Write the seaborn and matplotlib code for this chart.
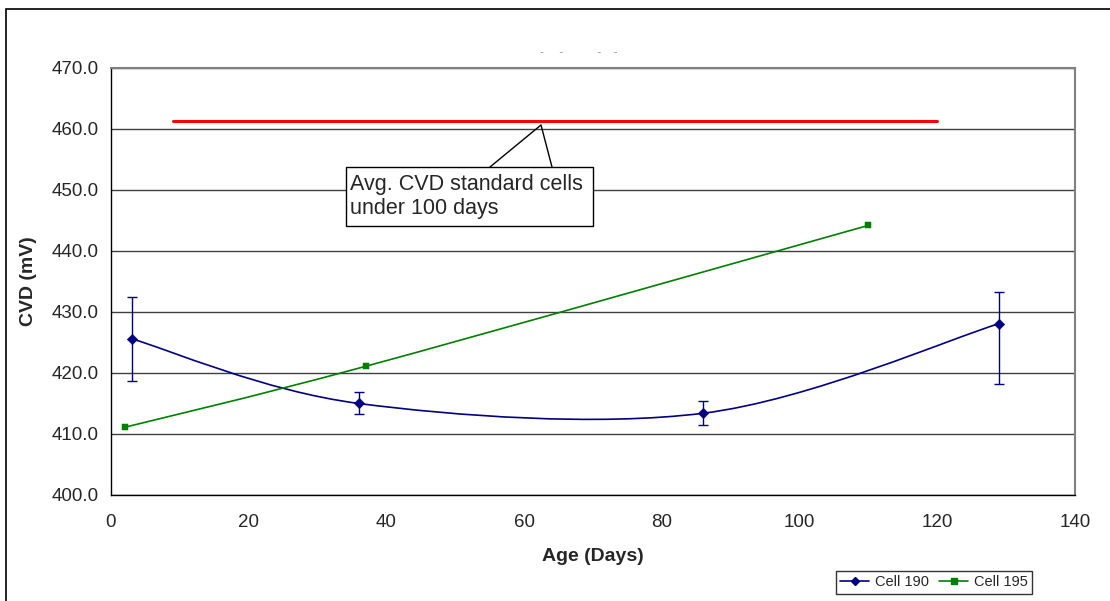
import numpy as np
import matplotlib
matplotlib.use("Agg")
import matplotlib.pyplot as plt
import seaborn as sns
import pandas as pd
from matplotlib.path import Path
from matplotlib.patches import PathPatch, Rectangle
from matplotlib.lines import Line2D

# ---- data ----
cell190_days = [3, 36, 86, 129]
cell190_cvd = [425.6, 415.0, 413.4, 428.1]
cell190_err_low = [418.7, 413.2, 411.5, 418.2]
cell190_err_high = [432.5, 416.9, 415.4, 433.3]

cell195_days = [2, 37, 110]
cell195_cvd = [411.1, 421.1, 444.2]

avg_std_days = [9, 120]
avg_std_cvd = [461.3, 461.3]

x_ticks = [0, 20, 40, 60, 80, 100, 120, 140]
y_ticks = [400, 410, 420, 430, 440, 450, 460, 470]

BLUE = "#000080"
GREEN = "#008000"
RED = "#ff0000"

sns.set_style("white")
plt.rcParams["font.family"] = ["Liberation Sans", "DejaVu Sans"]


def smooth_path(xs, ys):
    """Excel-style smoothed line: cubic Bezier segments through the points."""
    pts = np.column_stack([xs, ys]).astype(float)
    n = len(pts)
    verts = [pts[0]]
    codes = [Path.MOVETO]
    for i in range(n - 1):
        p0 = pts[i - 1] if i > 0 else pts[i]
        p1, p2 = pts[i], pts[i + 1]
        p3 = pts[i + 2] if i + 2 < n else pts[i + 1]
        verts += [p1 + (p2 - p0) / 6, p2 - (p3 - p1) / 6, p2]
        codes += [Path.CURVE4] * 3
    return Path(verts, codes)


fig = plt.figure(figsize=(11.1, 6.01), dpi=100)
ax = fig.add_axes([0.1, 0.1764, 0.8685, 0.7105])

# outer chart border
fig.add_artist(Rectangle((6 / 1110, -0.05), 1.2, 1 - 9 / 601 + 0.05,
                         transform=fig.transFigure, fill=False,
                         edgecolor="black", linewidth=1.2))

# gridlines
for y in y_ticks:
    ax.axhline(y, color="#404040", linewidth=1.0, zorder=1)

# smoothed lines
ax.add_patch(PathPatch(smooth_path(cell190_days, cell190_cvd), fill=False,
                       edgecolor=BLUE, linewidth=1.2, zorder=3))
ax.add_patch(PathPatch(smooth_path(cell195_days, cell195_cvd), fill=False,
                       edgecolor=GREEN, linewidth=1.2, zorder=3))

# error bars for cell 190
lo = np.array(cell190_cvd) - np.array(cell190_err_low)
hi = np.array(cell190_err_high) - np.array(cell190_cvd)
ax.errorbar(cell190_days, cell190_cvd, yerr=[lo, hi], fmt="none",
            ecolor=BLUE, elinewidth=1.0, capsize=3.5, capthick=1.0, zorder=3)

# markers
df190 = pd.DataFrame({"day": cell190_days, "cvd": cell190_cvd})
df195 = pd.DataFrame({"day": cell195_days, "cvd": cell195_cvd})
sns.scatterplot(data=df190, x="day", y="cvd", ax=ax, marker="D", s=28,
                color=BLUE, edgecolor=BLUE, zorder=4)
sns.scatterplot(data=df195, x="day", y="cvd", ax=ax, marker="s", s=20,
                color=GREEN, edgecolor=GREEN, zorder=4)

# average standard cells line
ax.plot(avg_std_days, avg_std_cvd, color=RED, linewidth=2.2, zorder=3)

ax.set_xlim(0, 140)
ax.set_ylim(400, 470)
ax.set_xticks(x_ticks)
ax.set_yticks(y_ticks)
ax.set_yticklabels([f"{v:.1f}" for v in y_ticks])
ax.tick_params(axis="both", labelsize=13.5, length=5, width=1, color="#404040",
               direction="out", pad=4)
ax.tick_params(axis="x", pad=9)
for s in ["left", "bottom"]:
    ax.spines[s].set_color("black")
    ax.spines[s].set_linewidth(1.0)
for s in ["top", "right"]:
    ax.spines[s].set_color("#808080")
    ax.spines[s].set_linewidth(1.5)

ax.set_xlabel("Age (Days)", fontsize=14, fontweight="bold", labelpad=12)
ax.set_ylabel("CVD (mV)", fontsize=14, fontweight="bold", labelpad=10)

# faint title remnants
fig.text(0.521, 0.913, "-     -           -    -", fontsize=8, color="#888888",
         ha="center", va="center")

# callout
box_l, box_r, box_t, box_b = 346, 593, 167, 226
fig.add_artist(Line2D([490 / 1110, 541 / 1110, 552 / 1110],
                      [1 - box_t / 601, 1 - 125 / 601, 1 - box_t / 601],
                      color="black", linewidth=1.0, zorder=5))
fig.add_artist(Rectangle((box_l / 1110, 1 - box_b / 601),
                         (box_r - box_l) / 1110, (box_b - box_t) / 601,
                         transform=fig.transFigure, facecolor="white",
                         edgecolor="black", linewidth=1.0, zorder=6))
fig.text(350 / 1110, 1 - (box_t + box_b) / 2 / 601,
         "Avg. CVD standard cells\nunder 100 days",
         fontsize=15.5, ha="left", va="center", linespacing=1.15, zorder=7)

# legend
handles = [
    Line2D([0], [0], color=BLUE, marker="D", markersize=4, linewidth=1.2),
    Line2D([0], [0], color=GREEN, marker="s", markersize=4, linewidth=1.2),
]
leg = fig.legend(handles, ["Cell 190", "Cell 195"], loc="center",
                 bbox_to_anchor=(934 / 1110, 1 - 582.5 / 601), ncol=2,
                 fontsize=10.5, frameon=True, fancybox=False, handlelength=2.0,
                 columnspacing=0.7, handletextpad=0.4, borderpad=0.3)
leg.get_frame().set_edgecolor("black")
leg.get_frame().set_linewidth(1.0)

fig.savefig("out.png", dpi=100)
